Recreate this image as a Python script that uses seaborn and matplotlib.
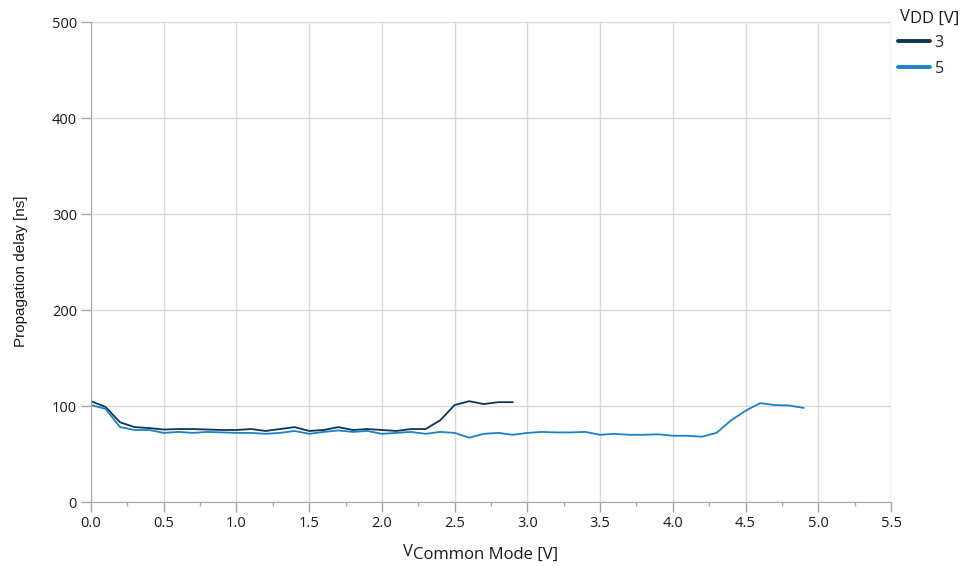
import matplotlib
matplotlib.use("Agg")
import matplotlib.pyplot as plt
from matplotlib.ticker import MultipleLocator
import seaborn as sns
import pandas as pd
import numpy as np

# VDD = 3 V
x_3v = [round(0.1 * i, 1) for i in range(30)]
delay_3v = [105, 99, 83, 78, 77, 75.5, 76, 76, 75.5, 75,
            75, 76, 74, 76, 78, 74, 75, 78, 75, 76,
            75, 74, 76, 76, 85, 101, 105, 102, 104, 104]

# VDD = 5 V
x_5v = [round(0.1 * i, 1) for i in range(50)]
delay_5v = [101, 97, 78, 75, 75, 72, 73, 72, 73, 72.5,
            72, 72, 71, 72, 74, 71, 73, 74.5, 73, 74,
            71, 72, 73, 71, 73, 72, 67, 71, 72, 70,
            72, 73, 72.5, 72.5, 73, 70, 71, 70, 70, 70.5,
            69, 69, 68, 72, 85, 95, 103, 101, 100.5, 98]

df = pd.concat([
    pd.DataFrame({"vcm": x_3v, "delay": delay_3v, "VDD": "3"}),
    pd.DataFrame({"vcm": x_5v, "delay": delay_5v, "VDD": "5"}),
])

sns.set_style("white")
plt.rcParams["font.family"] = ["Open Sans", "DejaVu Sans"]

W, H = 966, 567
fig = plt.figure(figsize=(W / 100, H / 100), dpi=100)
ax = fig.add_axes([91 / W, 1 - 502 / H, 800 / W, 480 / H])

sns.lineplot(data=df, x="vcm", y="delay", hue="VDD",
             palette={"3": "#0d3559", "5": "#1a82c6"}, linewidth=1.3,
             legend=True, ax=ax)

ax.set_xlim(0, 5.5)
ax.set_ylim(0, 500)
ax.set_xticks(np.arange(0, 5.51, 0.5))
ax.set_xticklabels([f"{v:.1f}" for v in np.arange(0, 5.51, 0.5)])
ax.xaxis.set_minor_locator(MultipleLocator(0.25))
ax.set_yticks(range(0, 501, 100))
ax.grid(True, which="major", color="#dadada", linewidth=1)
for s in ["top", "right"]:
    ax.spines[s].set_visible(False)
for s in ["left", "bottom"]:
    ax.spines[s].set_color("#a6a6a6")
ax.tick_params(axis="both", which="major", direction="out", length=7,
               width=1, color="#a6a6a6", labelsize=10.5, labelcolor="#1a1a1a",
               bottom=True, left=True, pad=3)
ax.tick_params(axis="x", which="minor", direction="out", length=3,
               width=1, color="#a6a6a6", bottom=True)

# y label (Arial-like)
ax.set_ylabel("Propagation delay [ns]", fontsize=11, color="#1a1a1a",
              family=["Liberation Sans", "DejaVu Sans"])
ax.yaxis.set_label_coords(-(91 - 28) / 800, 0.5 - 9 / 480)
ax.set_xlabel("")

# x label with lowered subscript
tv = fig.text(403 / W, 1 - 556 / H, "V", fontsize=12, color="#1a1a1a",
              ha="left", va="baseline")
ax.annotate("Common Mode [V]", xy=(1, 0), xycoords=tv, xytext=(0, -2),
            textcoords="offset points", fontsize=12, color="#1a1a1a",
            ha="left", va="bottom", annotation_clip=False)

# legend
handles, labels = ax.get_legend_handles_labels()
ax.legend_.remove()
leg = fig.legend(handles, labels, loc="upper left",
                 bbox_to_anchor=(898 / W, 1 - 35 / H), frameon=False,
                 fontsize=11.5, borderpad=0, borderaxespad=0,
                 handlelength=2.0, handletextpad=0.3, labelspacing=0.6)
for line in leg.get_lines():
    line.set_linewidth(2.8)

tt = fig.text(900 / W, 1 - 21 / H, "V", fontsize=12, color="#1a1a1a",
              ha="left", va="baseline")
ax.annotate("DD [V]", xy=(1, 0), xycoords=tt, xytext=(0, -1.5),
            textcoords="offset points", fontsize=12, color="#1a1a1a",
            ha="left", va="bottom", annotation_clip=False)

fig.savefig("out.png", dpi=100)
